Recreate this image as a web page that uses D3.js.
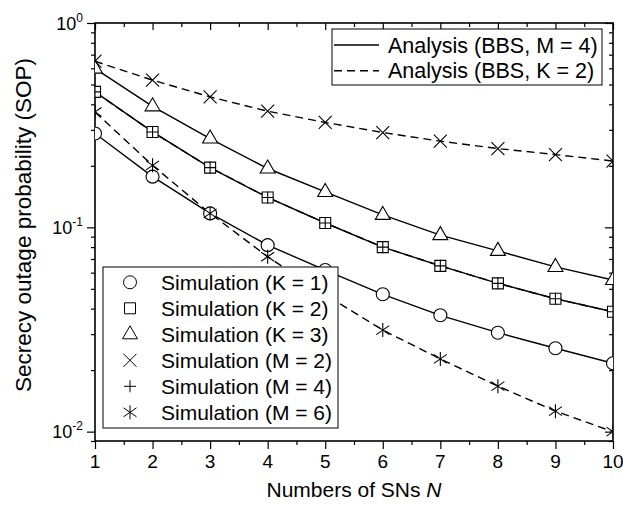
<!DOCTYPE html>
<html>
<head>
<meta charset="utf-8">
<script src="https://cdn.jsdelivr.net/npm/d3@7"></script>
<style>
  body { margin: 0; background: #fff; }
  text { font-family: "Liberation Sans", Arial, sans-serif; fill: #000; }
</style>
</head>
<body>
<div class="chart-container"></div>
<script>
var w = 623;
var h = 505;
var margin = {left: 95, right: 10, top: 23, bottom: 64};

// numbers of SNs N
var nValues = [1, 2, 3, 4, 5, 6, 7, 8, 9, 10];

// SOP, BBS M = 4
var simK1 = [0.288, 0.177, 0.117, 0.0818, 0.0618, 0.0470, 0.0371, 0.0305, 0.0256, 0.0216];
var simK2 = [0.460, 0.293, 0.196, 0.140, 0.105, 0.0800, 0.0648, 0.0532, 0.0447, 0.0386];
var simK3 = [0.598, 0.391, 0.272, 0.194, 0.149, 0.115, 0.0916, 0.0767, 0.0640, 0.0552];

// SOP, BBS K = 2
var simM2 = [0.650, 0.525, 0.435, 0.370, 0.326, 0.291, 0.264, 0.243, 0.227, 0.211];
var simM4 = [0.460, 0.293, 0.196, 0.140, 0.105, 0.0800, 0.0648, 0.0532, 0.0447, 0.0386];
var simM6 = [0.367, 0.201, 0.117, 0.0718, 0.0468, 0.0314, 0.0227, 0.0167, 0.0126, 0.0100];

var xTicks = [1, 2, 3, 4, 5, 6, 7, 8, 9, 10];
var yTickExp = [0, -1, -2];

var simLabels = ["Simulation (K = 1)", "Simulation (K = 2)", "Simulation (K = 3)",
                 "Simulation (M = 2)", "Simulation (M = 4)", "Simulation (M = 6)"];
var anaLabels = ["Analysis (BBS, M = 4)", "Analysis (BBS, K = 2)"];

var xScale = d3.scaleLinear()
                .domain([1, 10])
                .range([margin.left, w - margin.right]);

var yScale = d3.scaleLog()
                .domain([0.009, 1])
                .range([h - margin.bottom, margin.top]);

var svg = d3.select(".chart-container")
            .append("svg")
            .attr("width", w)
            .attr("height", h);

var x0 = xScale.range()[0], x1 = xScale.range()[1];
var y0 = yScale.range()[0], y1 = yScale.range()[1];

svg.append("clipPath")
    .attr("id", "plot-clip")
    .append("rect")
    .attr("x", x0).attr("y", y1)
    .attr("width", x1 - x0).attr("height", y0 - y1);

// minor tick values
var xMinor = d3.range(1.5, 10, 1);
var yMinor = [];
[0.01, 0.1].forEach(function(d) {
    for (var k = 2; k <= 9; k++) { yMinor.push(d * k); }
});
yMinor.push(0.009);

function axisStyle(g) {
    g.select(".domain").remove();
    g.selectAll("line").attr("stroke", "#000").attr("stroke-width", 1.2);
}

// bottom axis (outward)
svg.append("g")
    .attr("transform", "translate(0," + y0 + ")")
    .call(d3.axisBottom(xScale).tickValues(xTicks).tickSize(8).tickFormat(""))
    .call(axisStyle);
svg.append("g")
    .attr("transform", "translate(0," + y0 + ")")
    .call(d3.axisBottom(xScale).tickValues(xMinor).tickSize(4).tickFormat(""))
    .call(axisStyle);
// top axis (inward)
svg.append("g")
    .attr("transform", "translate(0," + y1 + ")")
    .call(d3.axisBottom(xScale).tickValues(xTicks).tickSize(7).tickFormat(""))
    .call(axisStyle);
svg.append("g")
    .attr("transform", "translate(0," + y1 + ")")
    .call(d3.axisBottom(xScale).tickValues(xMinor).tickSize(4).tickFormat(""))
    .call(axisStyle);
// left axis (outward)
svg.append("g")
    .attr("transform", "translate(" + x0 + ",0)")
    .call(d3.axisLeft(yScale).tickValues(yTickExp.map(function(e) { return Math.pow(10, e); })).tickSize(8).tickFormat(""))
    .call(axisStyle);
svg.append("g")
    .attr("transform", "translate(" + x0 + ",0)")
    .call(d3.axisLeft(yScale).tickValues(yMinor).tickSize(4).tickFormat(""))
    .call(axisStyle);
// right axis (inward)
svg.append("g")
    .attr("transform", "translate(" + x1 + ",0)")
    .call(d3.axisLeft(yScale).tickValues(yTickExp.map(function(e) { return Math.pow(10, e); })).tickSize(8).tickFormat(""))
    .call(axisStyle);
svg.append("g")
    .attr("transform", "translate(" + x1 + ",0)")
    .call(d3.axisLeft(yScale).tickValues(yMinor).tickSize(4).tickFormat(""))
    .call(axisStyle);

// frame
svg.append("rect")
    .attr("x", x0).attr("y", y1)
    .attr("width", x1 - x0).attr("height", y0 - y1)
    .attr("fill", "none")
    .attr("stroke", "#000")
    .attr("stroke-width", 1.6);

// tick labels
svg.selectAll(".xlabel")
    .data(xTicks)
    .enter()
    .append("text")
    .attr("class", "xlabel")
    .attr("x", function(d) { return xScale(d); })
    .attr("y", y0 + 27)
    .attr("text-anchor", "middle")
    .style("font-size", "19px")
    .text(function(d) { return d; });

var yLab = svg.selectAll(".ylabel")
    .data(yTickExp)
    .enter()
    .append("text")
    .attr("class", "ylabel")
    .attr("x", 83)
    .attr("y", function(d) { return yScale(Math.pow(10, d)) + 6.5; })
    .attr("text-anchor", "end")
    .style("font-size", "18px");
yLab.append("tspan").text("10");
yLab.append("tspan")
    .attr("dy", -8)
    .style("font-size", "12px")
    .text(function(d) { return d === 0 ? "0" : d; });

// axis titles
var xt = svg.append("text")
    .attr("x", (x0 + x1) / 2)
    .attr("y", 497)
    .attr("text-anchor", "middle")
    .style("font-size", "21px");
xt.append("tspan").text("Numbers of SNs ");
xt.append("tspan").style("font-style", "italic").text("N");

svg.append("text")
    .attr("transform", "translate(31,225) rotate(-90)")
    .attr("text-anchor", "middle")
    .style("font-size", "22.5px")
    .text("Secrecy outage probability (SOP)");

// marker shapes
var markers = {
    circle: "M6.5,0A6.5,6.5,0,1,1,-6.5,0A6.5,6.5,0,1,1,6.5,0Z",
    square: "M-5.5,-5.5H5.5V5.5H-5.5Z",
    triangle: "M0,-8.5L7.5,4.5L-7.5,4.5Z",
    cross: "M-6.5,-6.5L6.5,6.5M-6.5,6.5L6.5,-6.5",
    plus: "M-6,0H6M0,-6V6",
    star: "M0,-7V7M-6.5,-4.5L6.5,4.5M-6.5,4.5L6.5,-4.5"
};

var seriesList = [
    {values: simK1, marker: "circle", dash: null},
    {values: simK2, marker: "square", dash: null},
    {values: simK3, marker: "triangle", dash: null},
    {values: simM2, marker: "cross", dash: "8,5"},
    {values: simM4, marker: "plus", dash: "8,5"},
    {values: simM6, marker: "star", dash: "8,5"}
];

var line = d3.line()
    .x(function(d, i) { return xScale(nValues[i]); })
    .y(function(d) { return yScale(d); });

var plot = svg.append("g").attr("clip-path", "url(#plot-clip)");

plot.selectAll(".series-line")
    .data(seriesList)
    .enter()
    .append("path")
    .attr("class", "series-line")
    .attr("d", function(d) { return line(d.values); })
    .attr("fill", "none")
    .attr("stroke", "#000")
    .attr("stroke-width", 1.4)
    .attr("stroke-dasharray", function(d) { return d.dash; });

seriesList.forEach(function(s) {
    plot.selectAll(null)
        .data(s.values)
        .enter()
        .append("path")
        .attr("transform", function(d, i) {
            return "translate(" + xScale(nValues[i]) + "," + yScale(d) + ")";
        })
        .attr("d", markers[s.marker])
        .attr("fill", (s.marker === "circle" || s.marker === "square" || s.marker === "triangle") ? "#fff" : "none")
        .attr("stroke", "#000")
        .attr("stroke-width", 1.1);
});

// legend: analysis
svg.append("rect")
    .attr("x", 332).attr("y", 29)
    .attr("width", 270).attr("height", 56)
    .attr("fill", "#fff")
    .attr("stroke", "#000")
    .attr("stroke-width", 1);

svg.selectAll(".ana-line")
    .data(anaLabels)
    .enter()
    .append("line")
    .attr("x1", 334).attr("x2", 379)
    .attr("y1", function(d, i) { return 45 + i * 25.7; })
    .attr("y2", function(d, i) { return 45 + i * 25.7; })
    .attr("stroke", "#000")
    .attr("stroke-width", 1.4)
    .attr("stroke-dasharray", function(d, i) { return i === 1 ? "8,5" : null; });

svg.selectAll(".ana-label")
    .data(anaLabels)
    .enter()
    .append("text")
    .attr("x", 388)
    .attr("y", function(d, i) { return 45 + i * 25.7 + 7.5; })
    .style("font-size", "21.5px")
    .text(function(d) { return d; });

// legend: simulation
svg.append("rect")
    .attr("x", 103).attr("y", 267)
    .attr("width", 235).attr("height", 161)
    .attr("fill", "#fff")
    .attr("stroke", "#000")
    .attr("stroke-width", 1);

svg.selectAll(".sim-marker")
    .data(seriesList)
    .enter()
    .append("path")
    .attr("transform", function(d, i) { return "translate(130," + (282.3 + i * 26) + ")"; })
    .attr("d", function(d) { return markers[d.marker]; })
    .attr("fill", "none")
    .attr("stroke", "#000")
    .attr("stroke-width", 1);

svg.selectAll(".sim-label")
    .data(simLabels)
    .enter()
    .append("text")
    .attr("x", 161)
    .attr("y", function(d, i) { return 282.3 + i * 26 + 7.5; })
    .style("font-size", "21px")
    .text(function(d) { return d; });
</script>
</body>
</html>
